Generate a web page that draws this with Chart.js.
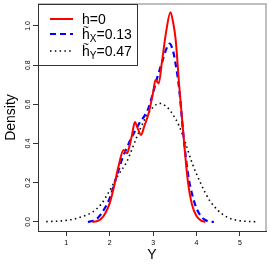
<!DOCTYPE html>
<html>
<head>
<meta charset="utf-8">
<script src="https://cdn.jsdelivr.net/npm/chart.js@4"></script>
<style>
  body { margin: 0; background: #fff; }
</style>
</head>
<body>
<canvas id="graph" width="270" height="270"></canvas>
<script>
// density estimates
let redX = [1.6, 1.7, 1.8, 1.9, 2.0, 2.1, 2.2, 2.32, 2.4, 2.46, 2.52, 2.58, 2.65, 2.72, 2.8, 2.9, 3.0, 3.055, 3.13, 3.2, 3.3, 3.4, 3.46, 3.52, 3.6, 3.7, 3.8, 3.9, 4.0, 4.1, 4.2];
let redY = [0, 0.004, 0.015, 0.045, 0.095, 0.18, 0.28, 0.367, 0.35, 0.39, 0.45, 0.51, 0.475, 0.444, 0.49, 0.556, 0.66, 0.724, 0.707, 0.81, 0.97, 1.07, 1.02, 0.93, 0.70, 0.44, 0.21, 0.085, 0.03, 0.008, 0];

let blueX = [1.5, 1.6, 1.7, 1.8, 1.9, 2.0, 2.1, 2.2, 2.3, 2.4, 2.5, 2.6, 2.7, 2.8, 2.9, 3.0, 3.1, 3.2, 3.3, 3.38, 3.45, 3.5, 3.6, 3.7, 3.8, 3.9, 4.0, 4.1, 4.2, 4.3, 4.4];
let blueY = [0, 0.005, 0.015, 0.04, 0.075, 0.12, 0.19, 0.26, 0.33, 0.38, 0.43, 0.47, 0.51, 0.54, 0.585, 0.66, 0.74, 0.81, 0.88, 0.91, 0.88, 0.83, 0.68, 0.44, 0.25, 0.14, 0.07, 0.03, 0.01, 0.003, 0];

let dotX = [0.54, 0.8, 1.0, 1.2, 1.4, 1.6, 1.8, 2.0, 2.2, 2.4, 2.6, 2.8, 3.0, 3.15, 3.3, 3.45, 3.6, 3.75, 3.9, 4.1, 4.3, 4.5, 4.7, 4.9, 5.1, 5.41];
let dotY = [0.002, 0.004, 0.008, 0.016, 0.03, 0.05, 0.09, 0.16, 0.24, 0.31, 0.42, 0.52, 0.585, 0.605, 0.59, 0.55, 0.49, 0.40, 0.30, 0.195, 0.11, 0.058, 0.025, 0.01, 0.004, 0.001];

let xTicks = [1, 2, 3, 4, 5];
let yTicks = [0.0, 0.2, 0.4, 0.6, 0.8, 1.0];
let yTickLabels = ["0.0", "0.2", "0.4", "0.6", "0.8", "1.0"];

let legendItems = [
    { base: "h", tilde: false, sub: "", rest: "=0" },
    { base: "h", tilde: true, sub: "X", rest: "=0.13" },
    { base: "h", tilde: true, sub: "Y", rest: "=0.47" },
];

function pts(xs, ys) {
    return xs.map((x, i) => ({ x: x, y: ys[i] }));
}

const FONT = "'Liberation Sans', Arial, sans-serif";

let extras = {
    id: 'extras',
    afterDraw(chart) {
        let ctx = chart.ctx;
        let a = chart.chartArea;
        let ys = chart.scales.y;
        ctx.save();
        // top / right part of the box
        ctx.strokeStyle = '#aaaaaa';
        ctx.lineWidth = 1.5;
        ctx.beginPath();
        ctx.moveTo(a.left, a.top);
        ctx.lineTo(a.right, a.top);
        ctx.lineTo(a.right, a.bottom);
        ctx.stroke();

        // rotated y tick labels
        ctx.fillStyle = '#000';
        ctx.font = '7px ' + FONT;
        ctx.textAlign = 'center';
        ctx.textBaseline = 'middle';
        yTicks.forEach((v, i) => {
            let py = ys.getPixelForValue(v);
            ctx.save();
            ctx.translate(28, py);
            ctx.rotate(-Math.PI / 2);
            ctx.fillText(yTickLabels[i], 0, 0);
            ctx.restore();
        });

        // legend
        ctx.strokeStyle = '#333';
        ctx.lineWidth = 1;
        ctx.strokeRect(a.left + 0.5, a.top + 0.5, 99, 61);
        let lineY = [19, 34, 51];
        let baseY = [24, 39, 56];
        chart.data.datasets.forEach((ds, i) => {
            ctx.save();
            ctx.strokeStyle = ds.borderColor;
            ctx.lineWidth = ds.borderWidth;
            ctx.setLineDash(ds.borderDash || []);
            ctx.beginPath();
            ctx.moveTo(50, lineY[i]);
            ctx.lineTo(73, lineY[i]);
            ctx.stroke();
            ctx.restore();

            let it = legendItems[i];
            let x = 82;
            ctx.fillStyle = '#000';
            ctx.textAlign = 'left';
            ctx.textBaseline = 'alphabetic';
            ctx.font = '14px ' + FONT;
            let hw = ctx.measureText(it.base).width;
            ctx.fillText(it.base, x, baseY[i]);
            if (it.tilde) {
                ctx.font = '10px ' + FONT;
                ctx.textAlign = 'center';
                ctx.fillText('~', x + hw / 2, baseY[i] - 8);
                ctx.textAlign = 'left';
            }
            x += hw;
            if (it.sub) {
                ctx.font = '10px ' + FONT;
                ctx.fillText(it.sub, x, baseY[i] + 3);
                x += ctx.measureText(it.sub).width;
            }
            ctx.font = '14px ' + FONT;
            ctx.fillText(it.rest, x, baseY[i]);
        });
        ctx.restore();
    }
};

let graph = document.getElementById('graph').getContext('2d');

let stat = new Chart(graph, {
    type: 'line',
    data: {
        datasets: [{
            label: 'h=0',
            data: pts(redX, redY),
            borderColor: '#ff0000',
            borderWidth: 2,
        }, {
            label: 'hX=0.13',
            data: pts(blueX, blueY),
            borderColor: '#0000ff',
            borderWidth: 2.2,
            borderDash: [6, 4],
        }, {
            label: 'hY=0.47',
            data: pts(dotX, dotY),
            borderColor: '#000000',
            borderWidth: 1.6,
            borderDash: [1.5, 3.3],
        }]
    },
    options: {
        responsive: false,
        animation: false,
        devicePixelRatio: 1,
        layout: { padding: { top: 4, right: 4, left: 0, bottom: 0 } },
        elements: {
            point: { radius: 0 },
            line: { cubicInterpolationMode: 'monotone', fill: false },
        },
        plugins: {
            legend: { display: false },
            tooltip: { enabled: false },
        },
        scales: {
            x: {
                type: 'linear',
                min: 0.35,
                max: 5.6,
                afterBuildTicks: s => { s.ticks = xTicks.map(v => ({ value: v })); },
                afterFit: s => { s.height = 39; },
                grid: { drawOnChartArea: false, drawTicks: true, tickLength: 5, color: '#333' },
                border: { display: true, color: '#333', width: 1 },
                ticks: {
                    color: '#000',
                    font: { size: 7, family: FONT },
                    padding: 3,
                    maxRotation: 0,
                    callback: v => String(v),
                },
                title: {
                    display: true,
                    text: 'Y',
                    color: '#000',
                    font: { size: 14, family: FONT },
                    padding: { top: 0, bottom: 6 },
                },
            },
            y: {
                type: 'linear',
                min: -0.046,
                max: 1.112,
                afterBuildTicks: s => { s.ticks = yTicks.map(v => ({ value: v })); },
                afterFit: s => { s.width = 38; },
                grid: { drawOnChartArea: false, drawTicks: true, tickLength: 5, color: '#333' },
                border: { display: true, color: '#333', width: 1 },
                ticks: { display: false },
                title: {
                    display: true,
                    text: 'Density',
                    color: '#000',
                    font: { size: 14, family: FONT },
                    padding: { top: 3, bottom: 0 },
                },
            },
        },
    },
    plugins: [extras],
});
</script>
</body>
</html>
